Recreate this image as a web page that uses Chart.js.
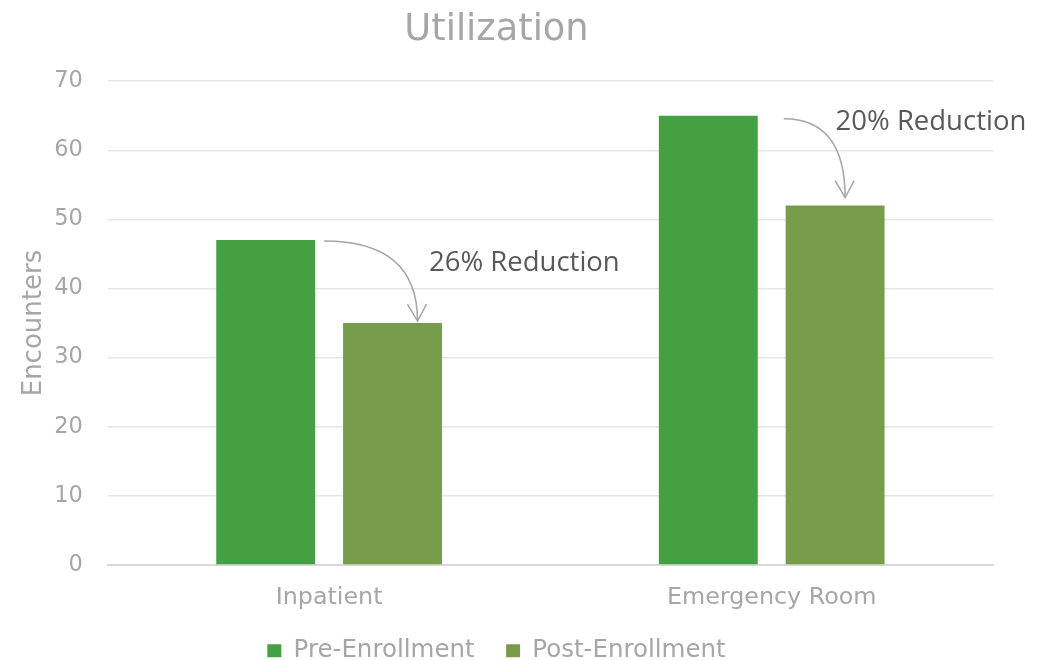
<!DOCTYPE html>
<html>
<head>
<meta charset="utf-8">
<script src="https://cdn.jsdelivr.net/npm/chart.js@4"></script>
<style>
  html, body { margin: 0; padding: 0; background: #fff; }
  #wrap { width: 1046px; height: 660px; }
</style>
</head>
<body>
<div id="wrap"><canvas id="utilChart" width="1046" height="660"></canvas></div>
<script>
const categories = ["Inpatient", "Emergency Room"];
const preEnrollment = [47, 65];
const postEnrollment = [35, 52];
const yTicks = [0, 10, 20, 30, 40, 50, 60, 70];

const gray = "#a6a6a6";
const font = "'DejaVu Sans', Verdana, sans-serif";

// curved "reduction" arrows, offsets in px from the bar tops
const arrowStyle = [
  { startDx: 9, startDy: 1, endDx: 25, endDy: -2, textDx: -13, textDy: -60 },
  { startDx: 26, startDy: 3, endDx: 10, endDy: -8, textDx: -49, textDy: -83 },
];

const reductionArrows = {
  id: "reductionArrows",
  afterDatasetsDraw(chart) {
    const ctx = chart.ctx;
    const pre = chart.getDatasetMeta(0).data;
    const post = chart.getDatasetMeta(1).data;
    pre.forEach((bar, i) => {
      const s = arrowStyle[i];
      const p = post[i];
      const x0 = bar.x + bar.width / 2 + s.startDx;
      const y0 = bar.y + s.startDy;
      const x1 = p.x + s.endDx;
      const y1 = p.y + s.endDy;

      ctx.save();
      ctx.strokeStyle = gray;
      ctx.lineWidth = 1.5;
      ctx.beginPath();
      ctx.moveTo(x0, y0);
      ctx.quadraticCurveTo(x1, y0, x1, y1);
      ctx.stroke();
      // open arrow head
      ctx.beginPath();
      ctx.moveTo(x1 - 10, y1 - 17);
      ctx.lineTo(x1, y1);
      ctx.lineTo(x1 + 9, y1 - 17);
      ctx.stroke();

      const pct = Math.round((1 - postEnrollment[i] / preEnrollment[i]) * 100);
      ctx.fillStyle = "#595959";
      ctx.font = "27.5px 'Open Sans', sans-serif";
      ctx.textBaseline = "middle";
      ctx.textAlign = "left";
      ctx.fillText(pct + "% Reduction", p.x + p.width / 2 + s.textDx, p.y + s.textDy);
      ctx.restore();
    });
  },
};

new Chart(document.getElementById("utilChart"), {
  type: "bar",
  data: {
    labels: categories,
    datasets: [
      {
        label: "Pre-Enrollment",
        data: preEnrollment,
        backgroundColor: "#43a043",
        categoryPercentage: 0.573,
        barPercentage: 0.78,
      },
      {
        label: "Post-Enrollment",
        data: postEnrollment,
        backgroundColor: "#789d4a",
        categoryPercentage: 0.573,
        barPercentage: 0.78,
      },
    ],
  },
  options: {
    responsive: false,
    animation: false,
    layout: { padding: { left: 0, right: 53, top: 0, bottom: -13 } },
    plugins: {
      title: {
        display: true,
        text: "Utilization",
        color: gray,
        font: { family: font, size: 36.8, weight: "normal" },
        padding: { top: 8, bottom: 29 },
      },
      legend: {
        position: "bottom",
        labels: {
          color: gray,
          font: { family: font, size: 24.5 },
          boxWidth: 14,
          boxHeight: 13,
          padding: 7,
          // wider gap between the two entries than the row padding gives
          generateLabels(chart) {
            const items = Chart.defaults.plugins.legend.labels.generateLabels(chart);
            items.forEach((item, i) => {
              if (i < items.length - 1) item.text += "\u2002\u2002";
            });
            return items;
          },
        },
      },
      tooltip: { enabled: false },
    },
    scales: {
      x: {
        grid: { display: false, drawTicks: false },
        border: { color: "#d9d9d9", width: 2 },
        ticks: {
          color: gray,
          font: { family: font, size: 23.8 },
          padding: 19,
          maxRotation: 0,
        },
      },
      y: {
        min: 0,
        max: 70,
        afterBuildTicks(axis) {
          axis.ticks = yTicks.map((v) => ({ value: v }));
        },
        grid: { color: "#e6e6e6", lineWidth: 1.5, drawTicks: false },
        border: { display: false },
        ticks: {
          color: gray,
          font: { family: font, size: 22.5 },
          padding: 25,
        },
        title: {
          display: true,
          text: "Encounters",
          color: gray,
          font: { family: font, size: 26 },
          padding: { top: 19, bottom: -21 },
        },
      },
    },
  },
  plugins: [reductionArrows],
});
</script>
</body>
</html>
